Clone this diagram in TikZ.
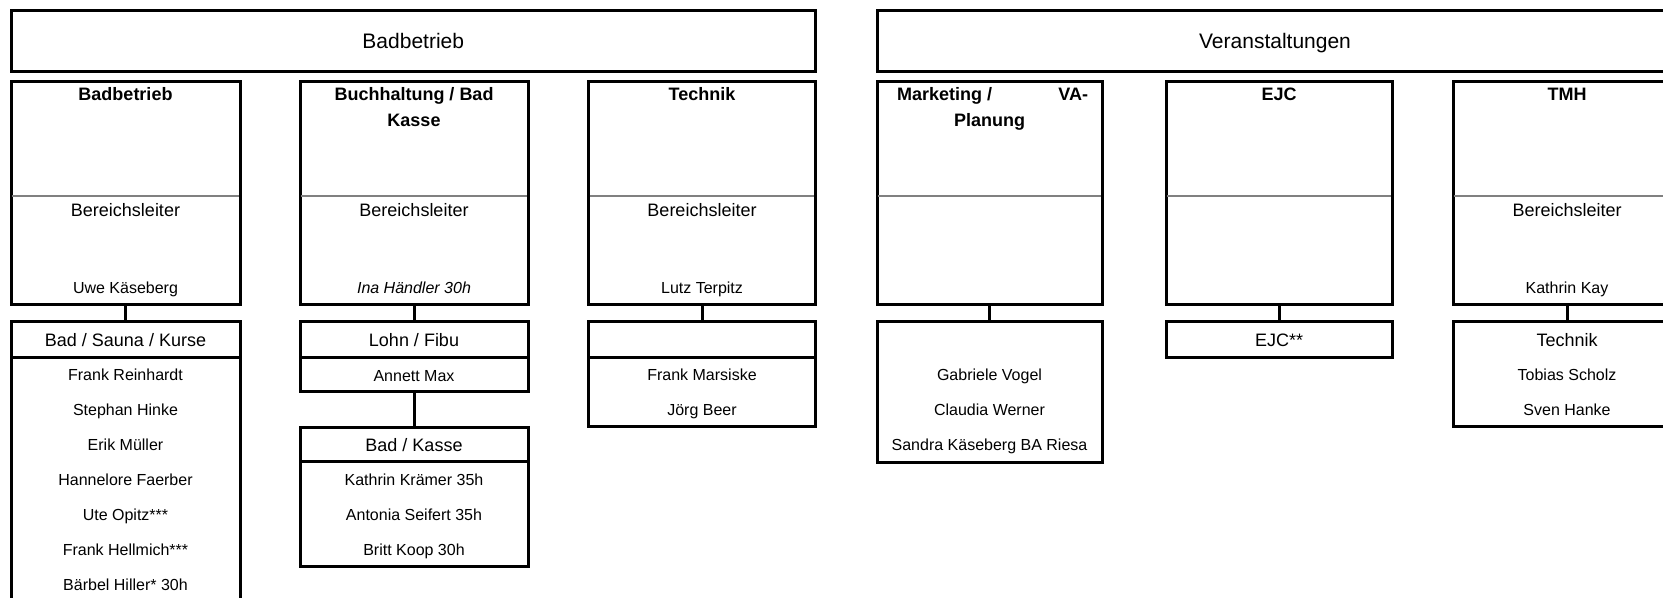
\documentclass[tikz,border=0pt]{standalone}
\usepackage{fontspec}
\setmainfont{Liberation Sans}
\definecolor{divgray}{RGB}{128,128,128}
\begin{document}
\begin{tikzpicture}[x=0.5pt,y=-0.5pt,
  frame/.style={draw=black,line width=1.5pt,inner sep=0pt,outer sep=0pt},
  lbl/.style={inner sep=0pt,outer sep=0pt,text height=0.75em,text depth=0em,align=center},
  ftop/.style={lbl,font=\fontsize{10.5}{12.6}\selectfont},
  fmid/.style={lbl,font=\fontsize{9}{10.8}\selectfont},
  fbold/.style={lbl,font=\bfseries\fontsize{9}{10.8}\selectfont},
  fsmall/.style={lbl,font=\fontsize{8}{9.6}\selectfont},
  fital/.style={lbl,font=\itshape\fontsize{8}{9.6}\selectfont},
  div/.style={draw=divgray,line width=1.1pt,shorten <=0.7pt,shorten >=0.7pt},
  link/.style={draw=black,line width=1.5pt}]
\useasboundingbox (0,0) rectangle (1663,598);
\clip (0,0) rectangle (1663,598);

% top level
\node[frame,ftop,minimum width=402.25pt,minimum height=30.5pt] (top1) at (413.25,41.5) {Badbetrieb};
\node[frame,ftop,minimum width=398pt,minimum height=30.5pt] (top2) at (1275,41.5) {Veranstaltungen};

% department boxes
\node[frame,minimum width=114.5pt,minimum height=111.25pt] (subA) at (125.5,193.25) {};
\node[frame,minimum width=114pt,minimum height=111.25pt] (subB) at (414,193.25) {};
\node[frame,minimum width=113.5pt,minimum height=111.25pt] (subC) at (702,193.25) {};
\node[frame,minimum width=112.5pt,minimum height=111.25pt] (subD) at (989.5,193.25) {};
\node[frame,minimum width=113pt,minimum height=111.25pt] (subE) at (1279,193.25) {};
\node[frame,minimum width=114pt,minimum height=111.25pt] (subF) at (1567,193.25) {};

\foreach \s in {subA,subB,subC,subD,subE,subF}
  \draw[div] ([yshift=-57pt]\s.north west) -- ([yshift=-57pt]\s.north east);

% titles
\node[fbold] (tA) at (125.5,93.5) {Badbetrieb};
\node[fbold] (tB1) at (414,93.5) {Buchhaltung / Bad};
\node[fbold] (tB2) at (414,119) {Kasse};
\node[fbold] (tC) at (702,93.5) {Technik};
\node[fbold,anchor=west] (tD1) at (897,93.5) {Marketing /};
\node[fbold,anchor=east] (tD2) at (1088,93.5) {VA-};
\node[fbold] (tD3) at (989.5,119) {Planung};
\node[fbold] (tE) at (1279,93.5) {EJC};
\node[fbold] (tF) at (1567,93.5) {TMH};

% Bereichsleiter
\node[fmid] (bA) at (125.5,209) {Bereichsleiter};
\node[fmid] (bB) at (414,209) {Bereichsleiter};
\node[fmid] (bC) at (702,209) {Bereichsleiter};
\node[fmid] (bF) at (1567,209) {Bereichsleiter};

\node[fsmall] (nA) at (125.5,286) {Uwe Käseberg};
\node[fital] (nB) at (414,286) {Ina Händler 30h};
\node[fsmall] (nC) at (702,286) {Lutz Terpitz};
\node[fsmall] (nF) at (1567,286) {Kathrin Kay};

% column A lower
\node[frame,fmid,minimum width=114.5pt,minimum height=17.5pt] (hdrA) at (125.5,339.5) {Bad / Sauna / Kurse};
\node[frame,minimum width=114.5pt,minimum height=127.5pt] (listA) at (125.5,484.5) {};
\node[fsmall] (a1) at (125.5,373.3) {Frank Reinhardt};
\node[fsmall] (a2) at (125.5,408.3) {Stephan Hinke};
\node[fsmall] (a3) at (125.5,443.3) {Erik Müller};
\node[fsmall] (a4) at (125.5,478.3) {Hannelore Faerber};
\node[fsmall] (a5) at (125.5,513.3) {Ute Opitz***};
\node[fsmall] (a6) at (125.5,548.3) {Frank Hellmich***};
\node[fsmall] (a7) at (125.5,583.3) {Bärbel Hiller* 30h};

% column B lower
\node[frame,fmid,minimum width=114pt,minimum height=17.5pt] (hdrB) at (414,339.5) {Lohn / Fibu};
\node[frame,fsmall,minimum width=114pt,minimum height=17pt] (annB) at (414,374) {Annett Max};
\node[frame,fmid,minimum width=114pt,minimum height=17pt] (kasB) at (414,444) {Bad / Kasse};
\node[frame,minimum width=114pt,minimum height=52.75pt] (listB) at (414,513.75) {};
\node[fsmall] (b1) at (414,478.3) {Kathrin Krämer 35h};
\node[fsmall] (b2) at (414,513.3) {Antonia Seifert 35h};
\node[fsmall] (b3) at (414,548.3) {Britt Koop 30h};

% column C lower
\node[frame,minimum width=113.5pt,minimum height=17.5pt] (hdrC) at (702,339.5) {};
\node[frame,minimum width=113.5pt,minimum height=34.5pt] (listC) at (702,391.5) {};
\node[fsmall] (c1) at (702,373.3) {Frank Marsiske};
\node[fsmall] (c2) at (702,408.3) {Jörg Beer};

% column D lower
\node[frame,minimum width=112.5pt,minimum height=70pt] (boxD) at (989.5,392) {};
\node[fsmall] (d1) at (989.5,373.3) {Gabriele Vogel};
\node[fsmall] (d2) at (989.5,408.3) {Claudia Werner};
\node[fsmall] (d3) at (989.5,443.3) {Sandra Käseberg BA Riesa};

% column E lower
\node[frame,fmid,minimum width=113pt,minimum height=17.5pt] (hdrE) at (1279,339.5) {EJC**};

% column F lower
\node[frame,minimum width=114pt,minimum height=52pt] (boxF) at (1567,374) {};
\node[fmid] (f0) at (1567,339.5) {Technik};
\node[fsmall] (f1) at (1567,373.3) {Tobias Scholz};
\node[fsmall] (f2) at (1567,408.3) {Sven Hanke};

% connectors
\draw[link] (subA.south) -- (hdrA.north);
\draw[link] (subB.south) -- (hdrB.north);
\draw[link] (annB.south) -- (kasB.north);
\draw[link] (subC.south) -- (hdrC.north);
\draw[link] (subD.south) -- (boxD.north);
\draw[link] (subE.south) -- (hdrE.north);
\draw[link] (subF.south) -- (boxF.north);
\end{tikzpicture}
\end{document}
